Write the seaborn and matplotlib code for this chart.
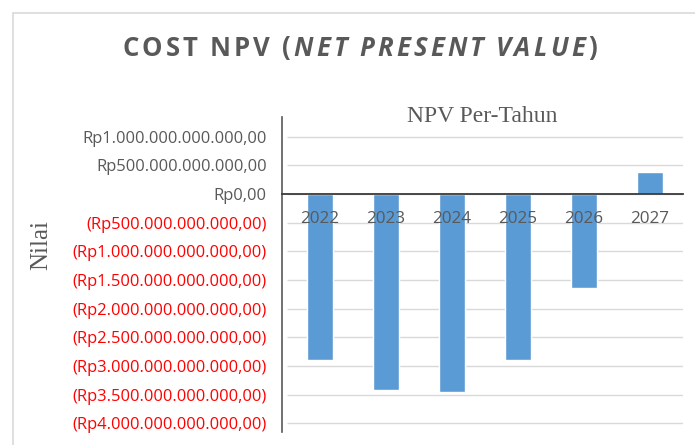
import matplotlib
matplotlib.use('Agg')
import matplotlib.pyplot as plt
import matplotlib.patches as mpatches
import pandas as pd
import seaborn as sns

# Data
years = ['2022', '2023', '2024', '2025', '2026', '2027']
npv = [-2.90e12, -3.42e12, -3.46e12, -2.90e12, -1.64e12, 0.39e12]
tick_values = [1.0e12, 0.5e12, 0.0, -0.5e12, -1.0e12, -1.5e12, -2.0e12,
               -2.5e12, -3.0e12, -3.5e12, -4.0e12]

df = pd.DataFrame({'Tahun': years, 'NPV': npv})

GRAY = '#595959'
sns.set_style('white')
plt.rcParams['font.family'] = ['Open Sans', 'DejaVu Sans']

fig = plt.figure(figsize=(6.95, 4.45), dpi=100)
ax = fig.add_axes([282 / 695, 1 - 432 / 445, 401 / 695, 315 / 445])

sns.barplot(data=df, x='Tahun', y='NPV', color='#5B9BD5', width=0.39,
            saturation=1, ax=ax, zorder=2)

ax.set_ylim(-4.152e12, 1.343e12)
ax.set_xlim(-0.5 - 5 / 66, 5.5)

# gridlines
ax.hlines(tick_values, -0.5, 5.5, color='#D9D9D9', lw=1, zorder=0.5)


def rupiah(v):
    s = f"{abs(v):,.2f}".replace(',', '#').replace('.', ',').replace('#', '.')
    s = 'Rp' + s
    return f"({s})" if v < 0 else s


ax.set_yticks(tick_values)
ax.set_yticklabels([rupiah(v) for v in tick_values])
for lbl, v in zip(ax.get_yticklabels(), tick_values):
    lbl.set_color('#FF0000' if v < 0 else GRAY)
ax.tick_params(axis='y', length=0, pad=11, labelsize=11.9)

# x axis sits on zero
for s in ['top', 'right']:
    ax.spines[s].set_visible(False)
ax.spines['bottom'].set_position(('data', 0))
ax.spines['bottom'].set_color('#3A3A3A')
ax.spines['bottom'].set_linewidth(1.3)
ax.spines['left'].set_color('#595959')
ax.spines['left'].set_linewidth(1.2)
ax.tick_params(axis='x', length=0, pad=12, labelsize=12.3, labelcolor=GRAY)
ax.set_axisbelow(False)
ax.set_xlabel('')

ax.set_ylabel('Nilai', fontfamily='Liberation Serif', fontsize=18, color=GRAY)
ax.yaxis.set_label_coords((52 - 282) / 401, (432 - 245) / 315)

ax.set_title('NPV Per-Tahun', fontfamily='Liberation Serif', fontsize=17,
             color=GRAY, pad=-3.6)

# main title, drawn letter by letter to get the wide tracking
renderer = fig.canvas.get_renderer()
pieces = [('COST NPV (', 'normal'), ('NET PRESENT VALUE', 'italic'), (')', 'normal')]
tsize = 18.5
ty = 1 - 48 / 445
letters = []
for txt, style in pieces:
    for ch in txt:
        t = fig.text(0, ty, ch, fontsize=tsize, fontweight='bold', fontstyle=style,
                     color=GRAY, va='center', ha='left')
        letters.append(t)
widths = []
for t in letters:
    w = t.get_window_extent(renderer).width
    if t.get_text() == ' ' or w < 1:
        w = 0.2 * tsize * 100 / 72
    widths.append(w)
track = (475 - sum(widths)) / (len(letters) - 1)
x = 122.0
for t, w in zip(letters, widths):
    t.set_x(x / 695)
    x += w + track

# chart frame
fig.patches.append(mpatches.Rectangle((13 / 695, -0.1), 1.2, 1 - 13 / 445 + 0.1,
                                      transform=fig.transFigure, fill=False,
                                      edgecolor='#D9D9D9', lw=1.2))

fig.savefig('out.png', dpi=100)
